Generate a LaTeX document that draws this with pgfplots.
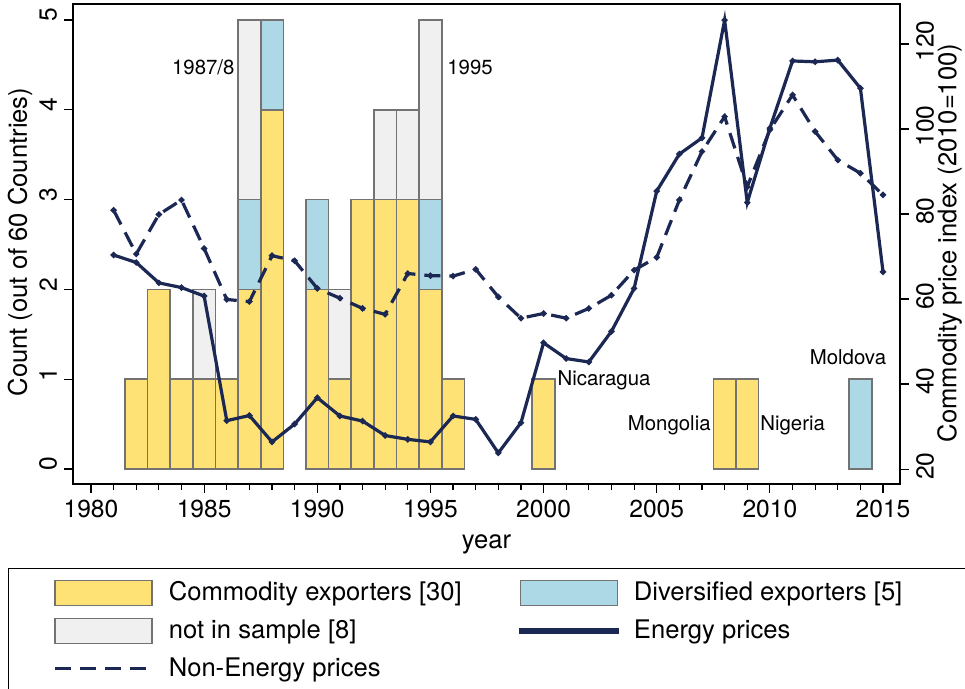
\documentclass[border=0pt]{standalone}
\usepackage{pgfplots}
\pgfplotsset{compat=1.18}
\usepackage{fontspec}
\setmainfont{TeX Gyre Heros}
\definecolor{cyel}{RGB}{254,226,118}
\definecolor{cblue}{RGB}{173,216,230}
\definecolor{cgrey}{RGB}{240,240,240}
\definecolor{cbord}{RGB}{115,115,115}
\definecolor{cnavy}{RGB}{28,40,84}
\tikzset{ann/.style={inner sep=0pt, font=\fontsize{10.2pt}{12pt}\selectfont}}
\begin{document}
\begin{tikzpicture}[font=\fontsize{12.8pt}{15pt}\selectfont]
\pgfplotsset{
 base/.style={width=413.5pt,height=240pt,scale only axis,
   xmin=1979.205,xmax=2015.75, at={(0,0)}, anchor=south west,
   tick align=outside, /pgf/number format/assume math mode=true,
   axis line style={black, line width=0.7pt},
   major tick length=4.5pt, minor tick length=2.8pt,
   every tick/.style={black,line width=0.6pt},
   tick label style={font=\fontsize{12.3pt}{14pt}\selectfont}},
 barsty/.style={draw=cbord, line width=0.8pt},
}
\begin{axis}[base, ymin=-0.167, ymax=5.178, ytick={0,1,2,3,4,5},
  xtick={1980,1985,...,2015}, minor x tick num=4,
  xtick pos=bottom, ytick pos=left,
  xticklabel style={/pgf/number format/1000 sep=},
  yticklabel style={rotate=90, anchor=south, xshift=2.5pt},
  ybar stacked, bar width=1,
  xlabel={year}, ylabel={Count (out of 60 Countries)},
  xlabel style={at={(axis description cs:0.5,-0.125)}, anchor=center},
  ylabel style={at={(axis description cs:-0.064,0.504)}, anchor=center},
]
\addplot[barsty, fill=cyel] coordinates {(1982,1)(1983,2)(1984,1)(1985,1)(1986,1)(1987,2)(1988,4)(1990,2)(1991,1)(1992,3)(1993,3)(1994,3)(1995,2)(1996,1)(2000,1)(2008,1)(2009,1)(2014,0)};
\addplot[barsty, fill=cblue] coordinates {(1982,0)(1983,0)(1984,0)(1985,0)(1986,0)(1987,1)(1988,1)(1990,1)(1991,0)(1992,0)(1993,0)(1994,0)(1995,1)(1996,0)(2000,0)(2008,0)(2009,0)(2014,1)};
\addplot[barsty, fill=cgrey] coordinates {(1982,0)(1983,0)(1984,0)(1985,1)(1986,0)(1987,2)(1988,0)(1990,0)(1991,1)(1992,0)(1993,1)(1994,1)(1995,2)(1996,0)(2000,0)(2008,0)(2009,0)(2014,0)};
\node[ann, anchor=east] at (axis cs:1986.36,4.47) {1987/8};
\node[ann, anchor=center] at (axis cs:1996.75,4.47) {1995};
\node[ann, anchor=west] at (axis cs:2000.6,0.99) {Nicaragua};
\node[ann, anchor=east] at (axis cs:2007.4,0.49) {Mongolia};
\node[ann, anchor=west] at (axis cs:2009.56,0.49) {Nigeria};
\node[ann, anchor=center] at (axis cs:2013.45,1.24) {Moldova};
\end{axis}
\begin{axis}[base, ymin=16.5, ymax=129.4, ytick={20,40,...,120},
  axis y line*=right, axis x line=none, ytick pos=right,
  yticklabel style={rotate=90, anchor=north, xshift=1.5pt},
  ylabel={Commodity price index (2010=100)},
  ylabel style={at={(axis description cs:1.060,0.502)}, anchor=center},
  legend columns=2,
  legend style={at={(axis description cs:-0.0786,-0.175)}, anchor=north west,
    draw=black, line width=0.6pt, inner xsep=22.5pt, inner ysep=5.5pt, row sep=5.8pt,
    nodes={inner sep=0pt, anchor=west},
    /tikz/every odd column/.append style={column sep=7.5pt}},
]
\addlegendimage{legend image code/.code={\draw[fill=cyel,draw=cbord,line width=0.8pt] (0pt,-6.25pt) rectangle (48.5pt,6.25pt);}}
\addlegendentry{\makebox[175pt][l]{Commodity exporters [30]}}
\addlegendimage{legend image code/.code={\draw[fill=cblue,draw=cbord,line width=0.8pt] (0pt,-6.25pt) rectangle (48.5pt,6.25pt);}}
\addlegendentry{\makebox[170pt][l]{Diversified exporters [5]}}
\addlegendimage{legend image code/.code={\draw[fill=cgrey,draw=cbord,line width=0.8pt] (0pt,-6.25pt) rectangle (48.5pt,6.25pt);}}
\addlegendentry{not in sample [8]}
\addplot[cnavy, line width=1.6pt, mark=*, mark size=0.6pt,
  legend image code/.code={\path[draw=none,fill=none] (0pt,-6.25pt) rectangle (48.5pt,6.25pt); \fill[cnavy] (0pt,-0.75pt) rectangle (48.5pt,0.75pt);}]
 coordinates {(1981,70.35)(1982,68.6)(1983,63.8)(1984,62.7)(1985,60.7)(1986,31.4)(1987,32.6)(1988,26.4)(1989,30.6)(1990,36.8)(1991,32.5)(1992,31.3)(1993,27.9)(1994,27.0)(1995,26.4)(1996,32.5)(1997,31.7)(1998,23.8)(1999,30.9)(2000,49.7)(2001,46.0)(2002,45.2)(2003,52.4)(2004,62.5)(2005,85.4)(2006,94.1)(2007,97.9)(2008,125.6)(2009,82.7)(2010,100.2)(2011,116.0)(2012,115.8)(2013,116.2)(2014,109.6)(2015,66.4)};
\addlegendentry{Energy prices}
\addplot[cnavy, line width=1.6pt, dash pattern=on 8pt off 4.5pt, mark=*, mark size=0.6pt, mark options={solid},
  legend image code/.code={\path[draw=none,fill=none] (0pt,-6.25pt) rectangle (48.5pt,6.25pt); \draw[cnavy,line width=1.6pt,dash pattern=on 8pt off 4.5pt] (0pt,0pt) -- (48.5pt,0pt);}]
 coordinates {(1981,80.9)(1982,70.6)(1983,79.9)(1984,83.3)(1985,71.9)(1986,59.9)(1987,59.4)(1988,70.2)(1989,69.0)(1990,62.5)(1991,60.2)(1992,57.8)(1993,56.4)(1994,66.0)(1995,65.5)(1996,65.4)(1997,67.0)(1998,60.5)(1999,55.5)(2000,56.6)(2001,55.5)(2002,57.8)(2003,60.9)(2004,66.8)(2005,69.8)(2006,83.3)(2007,94.7)(2008,102.9)(2009,86.4)(2010,99.8)(2011,108.0)(2012,99.4)(2013,92.7)(2014,89.6)(2015,84.5)};
\addlegendentry{Non-Energy prices}
\end{axis}
\pgfresetboundingbox
\useasboundingbox (-36.5pt,242pt) rectangle (446pt,-102.5pt);
\end{tikzpicture}
\end{document}
